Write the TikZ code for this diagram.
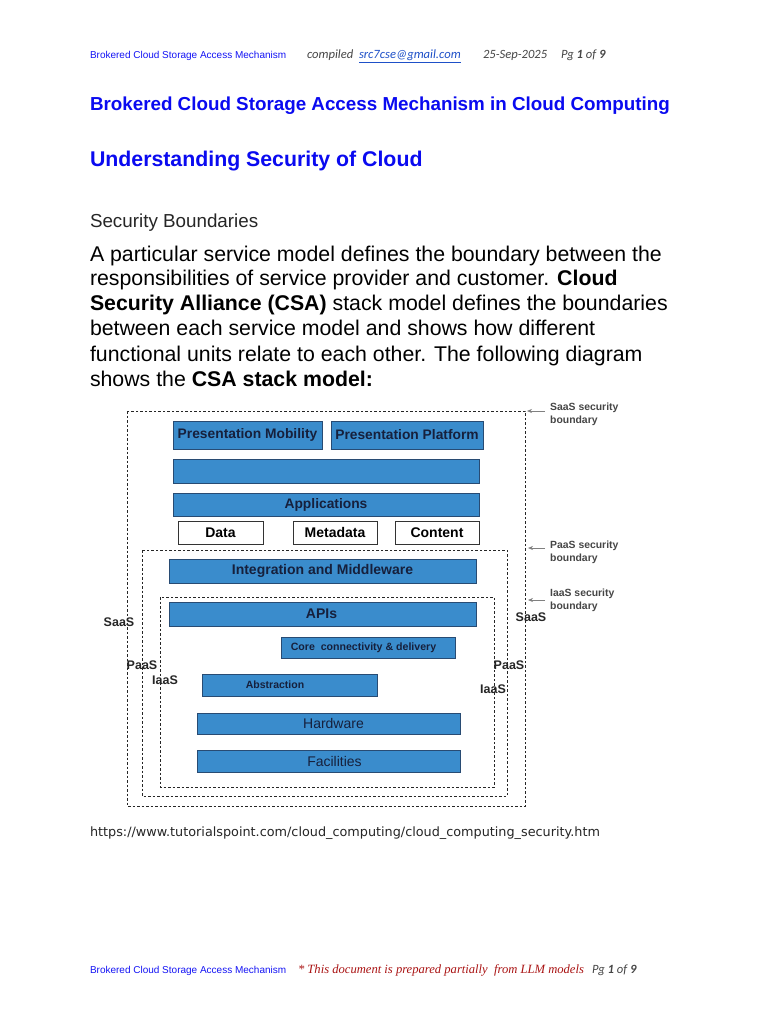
\documentclass[tikz,border=0pt]{standalone}
\usepackage{fontspec}
\setmainfont{Liberation Sans}
\newfontfamily\carl{Carlito}
\newfontfamily\tnr{Liberation Serif}
\newfontfamily\dvs{DejaVu Sans}
\usetikzlibrary{arrows.meta}
\definecolor{hblue}{RGB}{20,20,245}
\definecolor{tblue}{RGB}{10,10,240}
\definecolor{boxfill}{RGB}{58,140,204}
\definecolor{boxedge}{RGB}{40,75,115}
\definecolor{boxtext}{RGB}{22,32,60}
\definecolor{lnk}{RGB}{30,80,200}
\definecolor{dred}{RGB}{170,20,20}
\definecolor{gtxt}{RGB}{70,70,70}
\tikzset{
  txt/.style={anchor=base west,inner sep=0pt,outer sep=0pt},
  bluebox/.style={draw=boxedge,line width=0.8pt,fill=boxfill,inner sep=0pt,text=boxtext,font=\fontsize{13.8}{13}\selectfont\bfseries},
  whitebox/.style={draw=black!80,line width=0.8pt,fill=white,inner sep=0pt,text=black,font=\fontsize{14}{14}\selectfont\bfseries},
  bound/.style={draw=black!85,line width=0.8pt,dash pattern=on 2.5pt off 2pt},
  lbl/.style={inner sep=0pt,font=\fontsize{12.5}{12}\selectfont\bfseries,text=black!85},
  ann/.style={anchor=base west,inner sep=0pt,font=\fontsize{10.4}{10}\selectfont\bfseries,text=gtxt},
  annarrow/.style={draw=gray,line width=0.7pt,-{Stealth[length=5pt,width=4pt]}},
  hdr/.style={txt,text=gtxt,font=\carl\fontsize{12.6}{12}\selectfont\itshape}
}
\begin{document}
\begin{tikzpicture}[x=1pt,y=-1pt]
\useasboundingbox[fill=white] (0,0) rectangle (768,1024);
% header
\node[txt,text=hblue,font=\fontsize{10}{10}\selectfont] (h1) at (90,59) {Brokered Cloud Storage Access Mechanism};
\node[hdr] (h2) at (307,59) {compiled};
\node[hdr,text=lnk] (h3) at (359,59) {\underline{src7cse@gmail.com}};
\node[hdr] (h4) at (483,59) {25-Sep-2025};
\node[hdr] (h5) at (561,59) {Pg \textbf{1} of \textbf{9}};
% titles
\node[txt,text=tblue,font=\fontsize{18.8}{18}\selectfont\bfseries] (t1) at (90,111) {Brokered Cloud Storage Access Mechanism in Cloud Computing};
\node[txt,text=tblue,font=\fontsize{21.3}{20}\selectfont\bfseries] (t2) at (90,167) {Understanding Security of Cloud};
\node[txt,text=black!85,font=\fontsize{18.8}{17}\selectfont] (t3) at (90,227) {Security Boundaries};
% paragraph
\begin{scope}[every node/.style={txt,text=black,font=\fontsize{21.3}{19}\selectfont}]
\node (p1) at (90,261) {A particular service model defines the boundary between the};
\node (p2) at (90,285) {responsibilities of service provider and customer. \textbf{Cloud}};
\node (p3) at (90,310) {\textbf{Security Alliance (CSA)} stack model defines the boundaries};
\node (p4) at (90,335) {between each service model and shows how different};
\node (p5) at (90,361) {functional units relate to each other. The following diagram};
\node (p6) at (90,386) {shows the \textbf{CSA stack model:}};
\end{scope}
% boundaries
\draw[bound] (127,411) rectangle (525,806);
\draw[bound] (142,550) rectangle (507,796);
\draw[bound] (160,597) rectangle (494,787);
% boxes
\node[bluebox,minimum width=149pt,minimum height=28pt] (pm) at (247.5,435) {Presentation Mobility};
\node[bluebox,minimum width=152pt,minimum height=28pt] (pp) at (407,435) {Presentation Platform};
\node[bluebox,minimum width=306pt,minimum height=24pt] (eb) at (326,471) {};
\node[bluebox,minimum width=306pt,minimum height=23pt] (ap) at (326,504.5) {Applications};
\node[whitebox,minimum width=85pt,minimum height=23pt] (da) at (220.5,532.5) {Data};
\node[whitebox,minimum width=84pt,minimum height=23pt] (md) at (335,532.5) {Metadata};
\node[whitebox,minimum width=84pt,minimum height=23pt] (co) at (437,532.5) {Content};
\node[bluebox,minimum width=307pt,minimum height=24pt,font=\fontsize{14}{14}\selectfont\bfseries] (im) at (322.5,571) {Integration and Middleware};
\node[bluebox,minimum width=307pt,minimum height=24pt,font=\fontsize{14}{14}\selectfont\bfseries] (api) at (322.5,614) {\hspace*{-2pt}APIs};
\node[bluebox,minimum width=174pt,minimum height=21pt,font=\fontsize{10.6}{10}\selectfont\bfseries] (cc) at (368,647.5) {\hspace*{-9pt}Core\ \ connectivity \& delivery};
\node[bluebox,minimum width=175pt,minimum height=22pt,font=\fontsize{10.5}{10}\selectfont\bfseries] (ab) at (289.5,685) {\hspace*{-29pt}Abstraction};
\node[bluebox,minimum width=263pt,minimum height=21pt,font=\fontsize{14}{14}\selectfont] (hw) at (328.5,723.5) {\hspace*{10pt}Hardware};
\node[bluebox,minimum width=263pt,minimum height=22pt,font=\fontsize{14}{14}\selectfont] (fa) at (328.5,761) {\hspace*{12pt}Facilities};
% side labels
\node[lbl] (sl) at (119,622) {SaaS};
\node[lbl] (sr) at (531,617) {SaaS};
\node[lbl] (pl) at (142,665) {PaaS};
\node[lbl] (il) at (165,680) {IaaS};
\node[lbl] (pr) at (509,665) {PaaS};
\node[lbl] (ir) at (493,689) {IaaS};
% annotations
\node[ann] (a1) at (550,410) {SaaS security};
\node[ann] (a1b) at (550,423) {boundary};
\node[ann] (a2) at (550,548) {PaaS security};
\node[ann] (a2b) at (550,561) {boundary};
\node[ann] (a3) at (550,596) {IaaS security};
\node[ann] (a3b) at (550,609) {boundary};
\coordinate (e1) at (527,411);
\coordinate (e2) at (528,548);
\coordinate (e3) at (528,600);
\draw[annarrow] (545,411) -- (e1);
\draw[annarrow] (545,548) -- (e2);
\draw[annarrow] (545,600) -- (e3);
% url
\node[txt,text=black!85,font=\dvs\fontsize{12.8}{12}\selectfont] (url) at (90,836) {https://www.tutorialspoint.com/cloud\_computing/cloud\_computing\_security.htm};
% footer
\node[txt,text=hblue,font=\fontsize{10}{10}\selectfont] (f1) at (90,973) {Brokered Cloud Storage Access Mechanism};
\node[txt,text=dred,font=\tnr\fontsize{12.6}{12}\selectfont\itshape] (f2) at (298,973) {* This document is prepared partially\ \ from LLM models};
\node[hdr] (f3) at (592,973) {Pg \textbf{1} of \textbf{9}};
\end{tikzpicture}
\end{document}
